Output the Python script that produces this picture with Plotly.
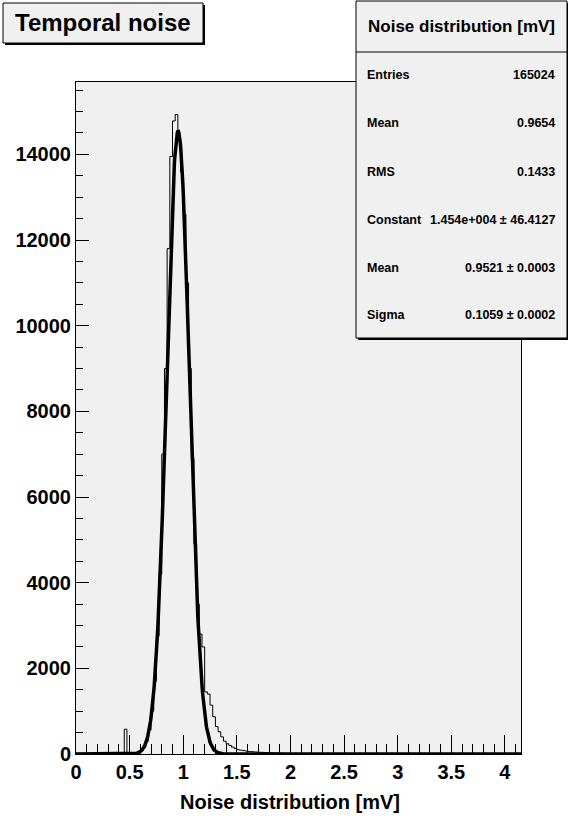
import numpy as np
import plotly.graph_objects as go

# ---- histogram of temporal noise (bin contents, read per 0.025 mV bin) ----
hist_low = 0.0
hist_high = 4.15
bin_width = 0.025
first_filled_edge = 0.45
counts = [580, 5, 8, 12, 20, 35, 70, 150, 300, 560, 1000, 1700, 2750, 4200,
          7000, 9000, 11800, 13950, 14780, 14930, 14350, 13600, 12600, 11000,
          9000, 6900, 4900, 3500, 2800, 2500, 1450, 1400, 1140, 870, 640, 520,
          400, 300, 240, 200, 160, 130, 100, 90, 80, 70, 60, 55, 50, 45, 40,
          38, 35, 30, 28, 25, 22, 20, 18, 15, 12, 10, 8, 6, 5, 5, 4, 4, 3, 3,
          2, 2, 1]

# ---- gaussian fit result ----
fit_constant = 1.454e4
fit_mean = 0.9521
fit_sigma = 0.1059

# ---- statistics box ----
stats_title = "Noise distribution [mV]"
stat_labels = ["Entries", "Mean", "RMS", "Constant", "Mean", "Sigma"]
stat_values = ["165024", "0.9654", "0.1433", "1.454e+004 ± 46.4127",
               "0.9521 ± 0.0003", "0.1059 ± 0.0002"]

y_max = 15690
x_title = "Noise distribution [mV]"
plot_title = "Temporal noise"

# full set of bins, empty outside the filled range
n_bins = int(round((hist_high - hist_low) / bin_width))
full_counts = np.zeros(n_bins)
start = int(round((first_filled_edge - hist_low) / bin_width))
full_counts[start:start + len(counts)] = counts
edges = hist_low + bin_width * np.arange(n_bins + 1)
step_y = np.append(full_counts, full_counts[-1])

xs = np.linspace(hist_low, hist_high, 1200)
fit_y = fit_constant * np.exp(-0.5 * ((xs - fit_mean) / fit_sigma) ** 2)

# frame position in pixels
W, H = 568, 819
PL, PR, PT, PB = 76, 521, 82, 754


def px_x(p):
    return (p - PL) / (PR - PL)


def px_y(p):
    return (PB - p) / (PB - PT)


FONT = "Liberation Sans, Arial, Helvetica, sans-serif"

fig = go.Figure()
fig.add_trace(go.Scatter(x=edges, y=step_y, mode="lines", line_shape="hv",
                         line=dict(color="black", width=1), hoverinfo="skip",
                         showlegend=False))
fig.add_trace(go.Scatter(x=xs, y=fit_y, mode="lines",
                         line=dict(color="black", width=3.5), hoverinfo="skip",
                         showlegend=False))

shapes = []
annotations = []


def rect(x0, y0, x1, y1, fill, line_w=1, line_col="black"):
    shapes.append(dict(type="rect", xref="paper", yref="paper",
                       x0=px_x(x0), x1=px_x(x1), y0=px_y(y1), y1=px_y(y0),
                       fillcolor=fill, line=dict(color=line_col, width=line_w)))


def text(x, y, s, size, anchor="center"):
    annotations.append(dict(xref="paper", yref="paper", x=px_x(x), y=px_y(y),
                            text=s, showarrow=False, xanchor=anchor,
                            yanchor="middle",
                            font=dict(family=FONT, size=size, color="black",
                                      weight="bold")))


# title pave with shadow
rect(5, 5, 205, 45, "black", 0)
rect(3, 3, 203, 43, "#f0f0f0")
text(103, 23, plot_title, 24)

# statistics pave with shadow
rect(358, 3, 571, 340, "black", 0)
rect(356, 1, 567, 338, "#f0f0f0")
shapes.append(dict(type="line", xref="paper", yref="paper",
                   x0=px_x(356), x1=px_x(567), y0=px_y(52), y1=px_y(52),
                   line=dict(color="black", width=1)))
text(461, 27, stats_title, 17)
row_y = [75, 123, 172, 220, 268, 315]
for ry, lab, val in zip(row_y, stat_labels, stat_values):
    text(365, ry, lab, 12.5, "left")
    text(557, ry, val, 12.5, "right")

# x axis title
text(290, 802, x_title, 20)

fig.update_layout(
    width=W, height=H,
    margin=dict(l=PL, r=W - PR, t=PT, b=H - PB, pad=0),
    paper_bgcolor="white", plot_bgcolor="#f0f0f0",
    shapes=shapes, annotations=annotations,
    xaxis=dict(range=[hist_low, hist_high], dtick=0.5, tick0=0,
               ticks="inside", ticklen=19, tickwidth=1, tickcolor="black",
               minor=dict(dtick=0.1, ticks="inside", ticklen=10,
                          tickcolor="black", tickwidth=1),
               showline=True, linecolor="black", linewidth=1, mirror=True,
               showgrid=False, zeroline=False, automargin=False,
               tickfont=dict(family=FONT, size=20, color="black",
                             weight="bold")),
    yaxis=dict(range=[0, y_max], dtick=2000, tick0=0, tickformat="d",
               ticks="inside", ticklen=13, tickwidth=1, tickcolor="black",
               minor=dict(dtick=500, ticks="inside", ticklen=7,
                          tickcolor="black", tickwidth=1),
               showline=True, linecolor="black", linewidth=1, mirror=True,
               showgrid=False, zeroline=False, automargin=False,
               tickfont=dict(family=FONT, size=20, color="black",
                             weight="bold")),
)

fig.write_html("out.html")
